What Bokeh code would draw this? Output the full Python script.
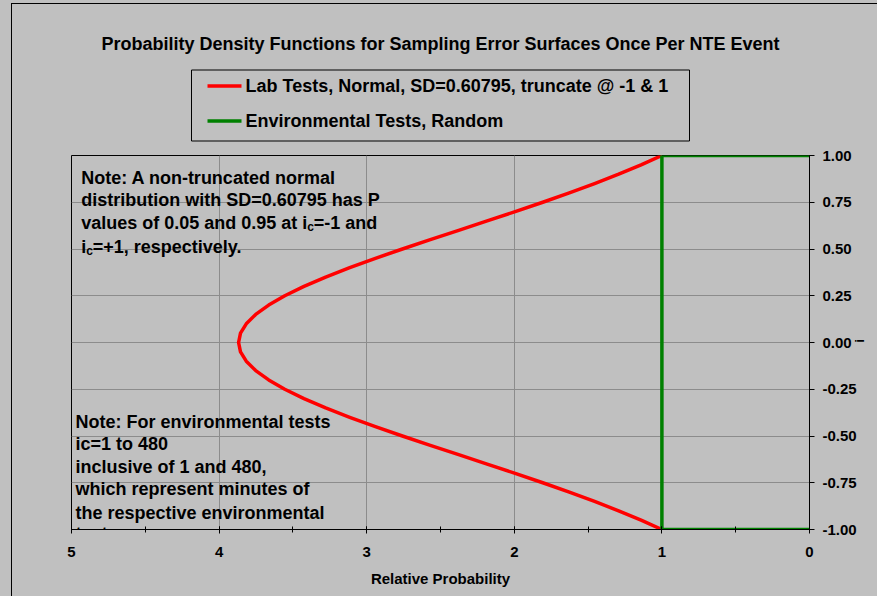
import math

from bokeh.plotting import figure
from bokeh.layouts import column
from bokeh.models import (Range1d, SingleIntervalTicker, NumeralTickFormatter,
                          ColumnDataSource, InlineStyleSheet)
from bokeh.core.properties import value
from bokeh.embed import file_html
from bokeh.resources import INLINE

# ---- data -------------------------------------------------------------
# ic (sampling error surface position) and relative probability of the
# truncated normal used for lab tests
ic = [-1.00, -0.95, -0.90, -0.85, -0.80, -0.75, -0.70, -0.65, -0.60, -0.55,
      -0.50, -0.45, -0.40, -0.35, -0.30, -0.25, -0.20, -0.15, -0.10, -0.05,
      0.00, 0.05, 0.10, 0.15, 0.20, 0.25, 0.30, 0.35, 0.40, 0.45,
      0.50, 0.55, 0.60, 0.65, 0.70, 0.75, 0.80, 0.85, 0.90, 0.95, 1.00]
lab_rel_prob = [1.000, 1.141, 1.293, 1.456, 1.627, 1.807, 1.994, 2.184, 2.377, 2.569,
                2.758, 2.941, 3.115, 3.278, 3.425, 3.555, 3.664, 3.752, 3.816, 3.855,
                3.868, 3.855, 3.816, 3.752, 3.664, 3.555, 3.425, 3.278, 3.115, 2.941,
                2.758, 2.569, 2.377, 2.184, 1.994, 1.807, 1.627, 1.456, 1.293, 1.141, 1.000]

# environmental tests: uniform (random) over the whole range
env_rel_prob = [0, 1, 1, 0]
env_ic = [1, 1, -1, -1]

title_text = "Probability Density Functions for Sampling Error Surfaces Once Per NTE Event"
lab_label = "Lab Tests, Normal, SD=0.60795, truncate @ -1 & 1"
env_label = "Environmental Tests, Random"
x_title = "Relative Probability"
y_title = "i"

FONT = "Liberation Sans"
BG = "#C0C0C0"
LAB_COLOR = "#FF0000"
ENV_COLOR = "#008000"
LINE_W = 3.5

BORDER_L, BORDER_R = 71, 68

# ---- header: title and legend -------------------------------------------
# drawn in page pixel coordinates (y grows downward)
HEAD_H = 145
head = figure(width=877, height=HEAD_H, output_backend="svg", toolbar_location=None,
              x_range=Range1d(BORDER_L, 877 - BORDER_R), y_range=Range1d(HEAD_H, 0),
              x_axis_type=None, y_axis_type=None,
              min_border_left=BORDER_L, min_border_right=BORDER_R,
              min_border_top=0, min_border_bottom=0)
head.grid.visible = False
head.outline_line_color = None
head.background_fill_color = BG
head.border_fill_color = BG

head.text(x=[440], y=[43], text=[title_text], text_font=value(FONT),
          text_font_style="bold", text_font_size="18px", text_color="black",
          text_align="center", text_baseline="alphabetic")

# legend box, line samples and labels
head.quad(left=[191], right=[689], top=[69.5], bottom=[140.5], fill_color=None,
          line_color="black", line_width=1)
head.segment(x0=[207, 207], y0=[85.5, 120.5], x1=[241, 241], y1=[85.5, 120.5],
             line_color=[LAB_COLOR, ENV_COLOR], line_width=LINE_W)
head.text(x=[245, 245], y=[85.5, 120.5], text=[lab_label, env_label],
          text_font=value(FONT), text_font_style="bold", text_font_size="18px",
          text_color="black", text_align="left", text_baseline="middle")

# ---- main chart -------------------------------------------------------
p = figure(width=877, height=596 - HEAD_H, output_backend="svg", toolbar_location=None,
           x_range=Range1d(5, 0), y_range=Range1d(-1, 1),
           y_axis_location="right",
           min_border_left=BORDER_L, min_border_right=BORDER_R,
           min_border_top=155 - HEAD_H, min_border_bottom=67)
p.background_fill_color = BG
p.border_fill_color = BG
p.outline_line_color = "black"
p.outline_line_width = 1

# axes
xa = p.xaxis[0]
xa.ticker = SingleIntervalTicker(interval=1, num_minor_ticks=2)
xa.axis_label = x_title
xa.axis_label_text_font = FONT
xa.axis_label_text_font_style = "bold"
xa.axis_label_text_font_size = "15px"
xa.axis_label_text_color = "black"
xa.axis_label_standoff = 10
xa.major_label_text_font = FONT
xa.major_label_text_font_style = "bold"
xa.major_label_text_font_size = "15px"
xa.major_label_text_color = "black"
xa.major_label_standoff = 13
xa.major_tick_in = 3
xa.major_tick_out = 4
xa.minor_tick_in = 3
xa.minor_tick_out = 3
xa.axis_line_color = "black"
xa.major_tick_line_color = "black"
xa.minor_tick_line_color = "black"

ya = p.yaxis[0]
ya.ticker = SingleIntervalTicker(interval=0.25, num_minor_ticks=0)
ya.formatter = NumeralTickFormatter(format="0.00")
ya.axis_label = y_title
ya.axis_label_text_font = FONT
ya.axis_label_text_font_style = "bold"
ya.axis_label_text_font_size = "12px"
ya.axis_label_text_color = "black"
ya.axis_label_standoff = 0
if "axis_label_orientation" in ya.properties():
    ya.axis_label_orientation = math.pi / 2
ya.major_label_text_font = FONT
ya.major_label_text_font_style = "bold"
ya.major_label_text_font_size = "15px"
ya.major_label_text_color = "black"
ya.major_label_standoff = 8
ya.major_tick_in = 0
ya.major_tick_out = 5
ya.minor_tick_line_color = None
ya.axis_line_color = "black"
ya.major_tick_line_color = "black"

p.xgrid.grid_line_color = "#8c8c8c"
p.ygrid.grid_line_color = "#8c8c8c"

# ---- series -----------------------------------------------------------
p.line(lab_rel_prob, ic, line_color=LAB_COLOR, line_width=LINE_W, line_join="round")
p.line(env_rel_prob, env_ic, line_color=ENV_COLOR, line_width=LINE_W)

# ---- notes inside the plot area -----------------------------------------
x1 = 4.934
x2 = 4.973
note_src = ColumnDataSource(dict(
    x=[x1, x1, x1, x1, x1, x1, x1, x1,
       x2, x2, x2, x2, x2, x2],
    y=[0.882, 0.762, 0.638, 0.638, 0.638, 0.513, 0.513, 0.513,
       -0.426, -0.545, -0.667, -0.786, -0.913, -0.95],
    text=["Note: A non-truncated normal",
          "distribution with SD=0.60795 has P",
          "values of 0.05 and 0.95 at i", "c", "=-1 and",
          "i", "c", "=+1, respectively.",
          "Note: For environmental tests",
          "ic=1 to 480",
          "inclusive of 1 and 480,",
          "which represent minutes of",
          "the respective environmental",
          "test"],
    dx=[0, 0, 0, 226, 232.5, 0, 5, 11.5, 0, 0, 0, 0, 0, 0],
    dy=[0, 0, 0, 4, 0, 0, 4, 0, 0, 0, 0, 0, 0, 14],
    size=["18px", "18px", "18px", "12px", "18px", "18px", "12px", "18px",
          "18px", "18px", "18px", "18px", "18px", "18px"],
))
p.text(x="x", y="y", text="text", x_offset="dx", y_offset="dy", source=note_src,
       text_font=value(FONT), text_font_style="bold", text_font_size="size",
       text_color="black", text_align="left", text_baseline="alphabetic")

# page background and chart-area border (left and top edges)
page = column(head, p, spacing=0)
page.stylesheets = [InlineStyleSheet(css="""
:host {
  background-color: #C0C0C0;
}
:host::after {
  content: "";
  position: absolute;
  left: 11px;
  top: 3px;
  width: calc(100% - 12px);
  height: calc(100% - 4px);
  border-left: 1px solid #000;
  border-top: 1px solid #000;
  pointer-events: none;
  z-index: 10;
}
""")]

open("out.html", "w").write(file_html(page, INLINE))
